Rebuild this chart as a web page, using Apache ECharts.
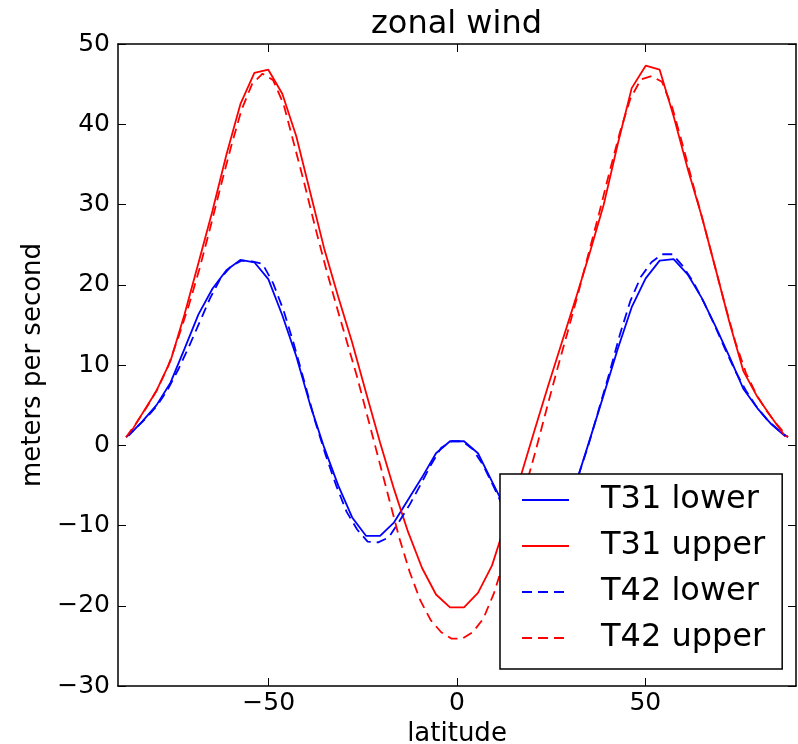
<!DOCTYPE html>
<html>
<head>
<meta charset="utf-8">
<script src="https://cdn.jsdelivr.net/npm/echarts@6/dist/echarts.min.js"></script>
<style>
  html, body { margin: 0; padding: 0; background: #fff; }
  #main { width: 798px; height: 744px; }
</style>
</head>
<body>
<div id="main"></div>
<script>
// gaussian latitudes, T31 (48) and T42 (64)
var latT31 = [-87.16, -83.48, -79.77, -76.06, -72.35, -68.64, -64.93, -61.22, -57.51, -53.80, -50.09, -46.38,
	-42.67, -38.96, -35.25, -31.54, -27.83, -24.12, -20.41, -16.70, -12.99, -9.28, -5.57, -1.86,
	1.86, 5.57, 9.28, 12.99, 16.70, 20.41, 24.12, 27.83, 31.54, 35.25, 38.96, 42.67,
	46.38, 50.09, 53.80, 57.51, 61.22, 64.93, 68.64, 72.35, 76.06, 79.77, 83.48, 87.16];
var latT42 = [-87.86, -85.10, -82.31, -79.51, -76.73, -73.94, -71.15, -68.36, -65.57, -62.78, -59.99, -57.20,
	-54.41, -51.62, -48.83, -46.04, -43.25, -40.46, -37.67, -34.88, -32.09, -29.30, -26.51, -23.72,
	-20.93, -18.14, -15.35, -12.56, -9.77, -6.98, -4.19, -1.40,
	1.40, 4.19, 6.98, 9.77, 12.56, 15.35, 18.14, 20.93, 23.72, 26.51, 29.30, 32.09,
	34.88, 37.67, 40.46, 43.25, 46.04, 48.83, 51.62, 54.41, 57.20, 59.99, 62.78, 65.57,
	68.36, 71.15, 73.94, 76.73, 79.51, 82.31, 85.10, 87.86];

var t31Lower = [1.2, 3.0, 5.0, 7.8, 12.0, 16.3, 19.5, 21.8, 23.1, 22.8, 20.7, 16.2,
	11.1, 5.0, -0.3, -5.0, -9.0, -11.3, -11.3, -9.6, -6.8, -4.0, -1.0, 0.5,
	0.5, -1.0, -4.5, -8.0, -10.5, -11.5, -11.5, -9.0, -4.8, 0.7, 6.3, 12.0,
	17.2, 20.8, 23.0, 23.2, 21.3, 18.4, 14.8, 11.0, 7.0, 4.6, 2.6, 1.1];
var t31Upper = [1.2, 4.0, 6.8, 10.5, 16.3, 22.7, 29.2, 36.2, 42.5, 46.4, 46.8, 43.8,
	38.5, 31.5, 24.5, 18.5, 12.8, 6.5, 0.3, -5.5, -10.8, -15.3, -18.6, -20.2,
	-20.2, -18.4, -15.0, -9.6, -4.2, 1.6, 7.3, 12.8, 18.3, 24.0, 30.0, 37.5,
	44.5, 47.3, 46.8, 41.0, 34.5, 28.6, 22.0, 15.3, 9.2, 6.0, 3.5, 1.1];
var t42Lower = [1.0, 2.2, 3.5, 5.0, 7.0, 9.5, 12.3, 15.3, 18.3, 20.8, 22.3, 23.0,
	22.9, 22.6, 20.2, 16.8, 12.5, 7.8, 3.0, -1.2, -5.0, -8.3, -10.5, -12.0,
	-12.1, -11.5, -9.5, -7.4, -5.0, -2.5, -0.3, 0.5,
	0.5, -0.5, -2.5, -5.2, -8.0, -10.3, -11.6, -12.1, -11.8, -10.2, -7.5, -4.0,
	0.0, 4.5, 9.0, 13.8, 18.0, 21.0, 22.8, 23.8, 23.8, 22.3, 20.3, 17.8,
	15.0, 12.0, 9.2, 6.8, 4.8, 3.2, 2.0, 1.0];
var t42Upper = [1.0, 2.8, 4.8, 7.0, 9.8, 13.5, 17.5, 22.0, 27.0, 32.2, 37.2, 41.8,
	45.0, 46.3, 45.5, 42.5, 37.5, 32.5, 27.2, 22.2, 17.5, 13.0, 8.5, 3.5,
	-1.5, -6.5, -11.5, -15.8, -19.3, -21.8, -23.3, -24.1,
	-24.1, -23.3, -21.6, -18.5, -14.3, -9.5, -5.3, -0.6, 4.4, 9.3, 14.0, 18.8,
	23.8, 28.8, 34.0, 39.0, 43.2, 45.6, 46.0, 45.3, 42.0, 37.3, 32.3, 27.5,
	22.5, 17.5, 12.8, 9.0, 6.3, 4.2, 2.5, 1.0];

var xTicks = [-50, 0, 50];

function pairs(lats, vals) {
	var out = [];
	for (var i = 0; i < lats.length; i++) out.push([lats[i], vals[i]]);
	return out;
}
function minus(v) { return String(v).replace('-', '\u2212'); }

var font = 'DejaVu Sans';
var black = '#000';

function xAx(pos, show) {
	return {
		type: 'value', position: pos, min: -90, max: 90,
		name: show ? 'latitude' : '', nameLocation: 'middle', nameGap: 31,
		nameTextStyle: { fontFamily: font, fontSize: 26, color: black },
		axisLine: { onZero: false, lineStyle: { color: black, width: 1.5 } },
		axisTick: { inside: true, length: 8, customValues: xTicks, lineStyle: { color: black } },
		axisLabel: { show: show, customValues: xTicks, margin: 5, fontFamily: font, fontSize: 25, color: black, formatter: minus },
		splitLine: { show: false }
	};
}
function yAx(pos, show) {
	return {
		type: 'value', position: pos, min: -30, max: 50, interval: 10,
		name: show ? 'meters per second' : '', nameLocation: 'middle', nameGap: 70, nameRotate: 90,
		nameTextStyle: { fontFamily: font, fontSize: 26, color: black },
		axisLine: { onZero: false, lineStyle: { color: black, width: 1.5 } },
		axisTick: { inside: true, length: 8, lineStyle: { color: black } },
		axisLabel: { show: show, margin: 8, fontFamily: font, fontSize: 25, color: black, formatter: minus },
		splitLine: { show: false }
	};
}

function line(name, lats, vals, color, dashed) {
	return {
		name: name, type: 'line', xAxisIndex: 0, yAxisIndex: 0,
		data: pairs(lats, vals), symbol: 'none', animation: false,
		lineStyle: { color: color, width: 1.8, type: dashed ? [10, 6] : 'solid' },
		itemStyle: { color: color }
	};
}

var option = {
	backgroundColor: '#fff',
	title: {
		text: 'zonal wind', left: 366, top: 4,
		textStyle: { fontFamily: font, fontSize: 32, fontWeight: 'normal', color: black }
	},
	grid: { left: 118, right: 2, top: 44, bottom: 58, containLabel: false, outerBoundsMode: 'none' },
	xAxis: [xAx('bottom', true), xAx('top', false)],
	yAxis: [yAx('left', true), yAx('right', false)],
	legend: {
		orient: 'vertical', left: 500, top: 474,
		itemWidth: 47, itemHeight: 32, itemGap: 14,
		padding: [10, 17, 15, 21],
		backgroundColor: '#fff', borderColor: black, borderWidth: 1.5, borderRadius: 0,
		itemStyle: { opacity: 0 },
		textStyle: { fontFamily: font, fontSize: 32, color: black, padding: [0, 0, 0, 27] },
		data: ['T31 lower', 'T31 upper', 'T42 lower', 'T42 upper']
	},
	series: [
		line('T31 lower', latT31, t31Lower, '#0000ff', false),
		line('T31 upper', latT31, t31Upper, '#ff0000', false),
		line('T42 lower', latT42, t42Lower, '#0000ff', true),
		line('T42 upper', latT42, t42Upper, '#ff0000', true)
	]
};

var myChart = echarts.init(document.getElementById('main'));
myChart.setOption(option);
</script>
</body>
</html>
